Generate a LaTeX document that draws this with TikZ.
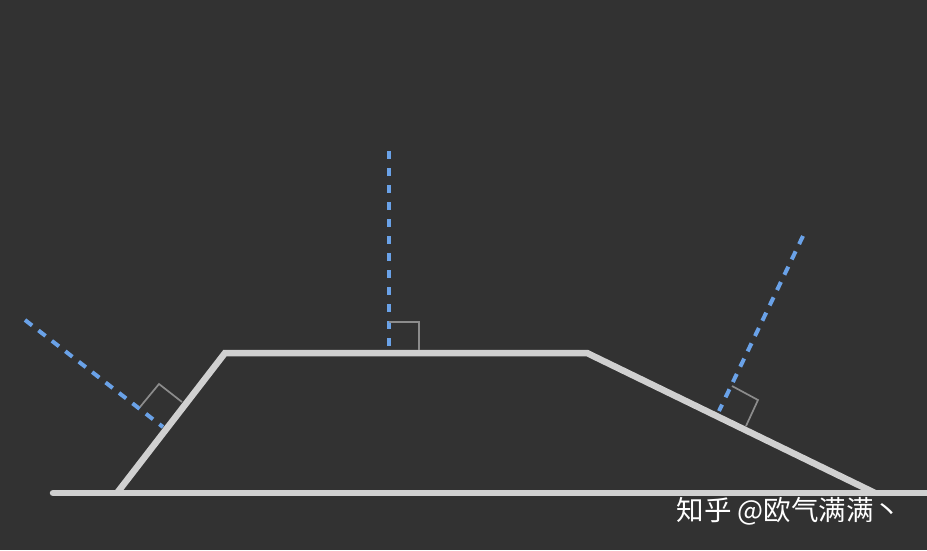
\documentclass[tikz,border=0pt]{standalone}
\usepackage{fontspec}
\newfontfamily\cjk{Noto Sans CJK SC}
\definecolor{bg}{HTML}{323232}
\definecolor{edge}{HTML}{D0D0D0}
\definecolor{normal}{HTML}{6AA2E8}
\definecolor{mark}{HTML}{8C8C8C}
\tikzstyle{surface}=[
    draw = edge,
    line width = 6.5pt,
    line join = miter
]
\tikzstyle{normal line}=[
    draw = normal,
    line width = 4pt,
    dash pattern = on 9pt off 8pt
]
\tikzstyle{right angle}=[
    draw = mark,
    line width = 1.7pt
]

\begin{document}
\begin{tikzpicture}[x=1pt, y=-1pt]
        \fill[bg] (0,0) rectangle (927,550);
        \useasboundingbox (0,0) rectangle (927,550);

        % ground and block
        \coordinate (g1) at (53,493);
        \coordinate (g2) at (927,493);
        \coordinate (a) at (117,493);
        \coordinate (b) at (225,353);
        \coordinate (c) at (587,353);
        \coordinate (d) at (875,493);
        \draw[surface, line cap=round] (g1) -- (g2);
        \draw[surface] (a) -- (b) -- (c) -- (d);

        % normals
        \coordinate (l1) at (163,427);
        \coordinate (l2) at (25,320);
        \coordinate (m1) at (389,350);
        \coordinate (m2) at (389,151);
        \coordinate (r1) at (719,411);
        \coordinate (r2) at (803,236);
        \draw[normal line] (l2) -- (l1);
        \draw[normal line, dash pattern = on 8pt off 9pt] (m2) -- (m1);
        \draw[normal line] (r2) -- (r1);

        % right angle marks
        \draw[right angle] (140,407) -- (159,384) -- (182,402);
        \draw[right angle] (389,322) -- (419,322) -- (419,350);
        \draw[right angle] (732,386) -- (758,400) -- (746,426);

        \node[text = white, font = \cjk\fontsize{27.5}{32}\selectfont, anchor = base west] (mark) at (673,520) {知乎 @欧气满满丶};

    \end{tikzpicture}
\end{document}
